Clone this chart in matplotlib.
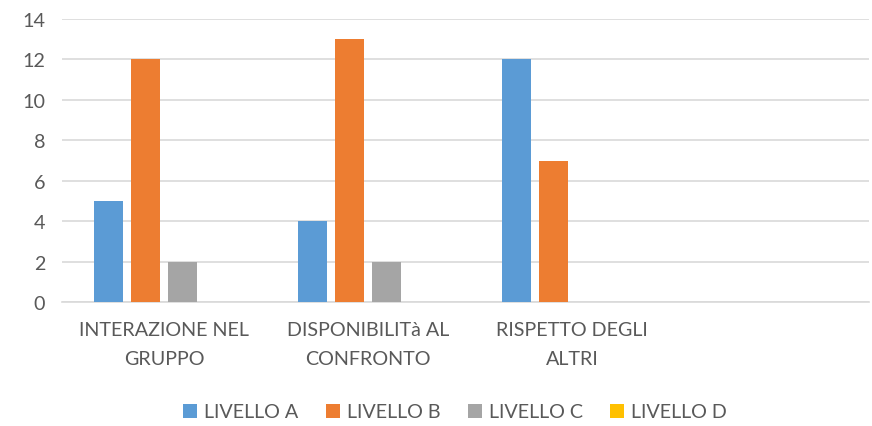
import numpy as np
import matplotlib.pyplot as plt

categories = ["INTERAZIONE NEL\nGRUPPO", "DISPONIBILITà AL\nCONFRONTO", "RISPETTO DEGLI\nALTRI", ""]
series = ["LIVELLO A", "LIVELLO B", "LIVELLO C", "LIVELLO D"]
livello_a = [5, 4, 12, 0]
livello_b = [12, 13, 7, 0]
livello_c = [2, 2, 0, 0]
livello_d = [0, 0, 0, 0]
colors = ["#5b9bd5", "#ed7d31", "#a5a5a5", "#ffc000"]

plt.rcParams['font.family'] = ['Lato', 'DejaVu Sans']
txt = "#595959"
fs = 14.2

fig = plt.figure(figsize=(8.72, 4.27), dpi=100)
ax = fig.add_axes([62/872, 1-303/427, (869-62)/872, (303-20)/427])

x = np.arange(len(categories))
w = 0.142
step = 0.181
vals = [livello_a, livello_b, livello_c, livello_d]
for i, (name, v) in enumerate(zip(series, vals)):
    ax.bar(x + (i - 1.5)*step, v, w, color=colors[i], label=name, zorder=3)

# category spacing ~204 px, plot area clipped at right edge
ax.set_xlim(-0.5, -0.5 + 807/204)
ax.set_ylim(0, 14)
ax.set_yticks(range(0, 15, 2))
ax.yaxis.grid(True, color="#d9d9d9", linewidth=1.2, zorder=0)
for s in ["top", "right", "left"]:
    ax.spines[s].set_visible(False)
ax.spines["bottom"].set_color("#d9d9d9")
ax.spines["bottom"].set_linewidth(1.2)
ax.set_xticks(x)
ax.set_xticklabels(categories, linespacing=1.8)
ax.tick_params(axis="both", length=0, labelsize=fs, colors=txt)
ax.tick_params(axis="x", pad=14)
ax.tick_params(axis="y", pad=12)

leg = fig.legend(loc="center", bbox_to_anchor=(455/872, 1-413/427), ncol=4, frameon=False,
                 fontsize=fs, handlelength=0.7, handleheight=0.7, handletextpad=0.35,
                 columnspacing=1.4)
for t in leg.get_texts():
    t.set_color(txt)

fig.savefig("out.png", dpi=100)
